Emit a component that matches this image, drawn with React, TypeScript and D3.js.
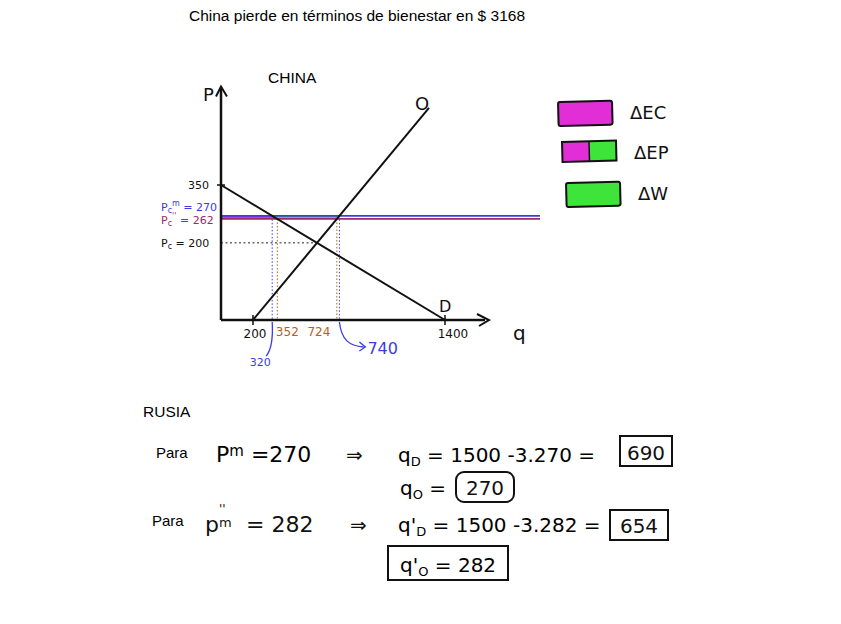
import React, { useRef, useEffect } from 'react';
import * as d3 from 'd3';

// Economic curves (China market)
const demandLine = [{ q: 0, p: 350 }, { q: 1400, p: 0 }];
const supplyLine = [{ q: 200, p: 0 }, { q: 1300, p: 550 }];
const equilibrium = { q: 600, p: 200 };
const priceTop = 270;    // Pc^m
const priceLow = 262;    // Pc''
const qDemandTop = 320;
const qDemandLow = 352;
const qSupplyLow = 724;
const qSupplyTop = 740;
const axisTicksX = [200, 1400];
const legendItems = ['ΔEC', 'ΔEP', 'ΔW'];

const MAGENTA = '#e22ed6';
const GREEN = '#3fe43a';
const BLUE = '#3b3be6';
const PURPLE = '#9a2a6c';
const BROWN = '#b2621f';
const HAND = "'DejaVu Sans', 'Noto Sans', sans-serif";
const PLAIN = "'Liberation Sans', Arial, sans-serif";

const App = () => {
  const svgRef = useRef<SVGSVGElement>(null);

  useEffect(() => {
    const svg = d3.select(svgRef.current);
    svg.selectAll('*').remove();

    const x = d3.scaleLinear().domain([0, 1400]).range([221, 445]);
    const y = d3.scaleLinear().domain([0, 350]).range([320, 185]);
    const line = d3.line<{ q: number; p: number }>().x(d => x(d.q)).y(d => y(d.p));

    // Titles
    svg.append('text').attr('x', 357).attr('y', 21).attr('text-anchor', 'middle')
      .style('font-family', PLAIN).style('font-size', '15.5px')
      .text('China pierde en términos de bienestar en $ 3168');
    svg.append('text').attr('x', 268).attr('y', 83)
      .style('font-family', PLAIN).style('font-size', '15.5px').text('CHINA');

    // Shaded areas
    svg.append('path')
      .attr('d', line([{ q: 0, p: priceTop }, { q: qDemandTop, p: priceTop }, { q: qDemandLow, p: priceLow }, { q: 0, p: priceLow }]) + 'Z')
      .attr('fill', MAGENTA);
    svg.append('path')
      .attr('d', line([{ q: qDemandTop, p: priceTop }, { q: qSupplyTop, p: priceTop }, { q: qSupplyLow, p: priceLow }, { q: qDemandLow, p: priceLow }]) + 'Z')
      .attr('fill', GREEN);

    // Dotted guide lines
    const guide = (q: number, p: number, color: string) =>
      svg.append('line').attr('x1', x(q)).attr('x2', x(q)).attr('y1', y(p)).attr('y2', y(0))
        .attr('stroke', color).attr('stroke-width', 1).attr('stroke-dasharray', '1.5,2');
    guide(qDemandTop, priceTop, BLUE);
    guide(qSupplyTop, priceTop, BLUE);
    guide(qDemandLow, priceLow, BROWN);
    guide(qSupplyLow, priceLow, BROWN);
    svg.append('line').attr('x1', x(0)).attr('x2', x(equilibrium.q))
      .attr('y1', y(equilibrium.p)).attr('y2', y(equilibrium.p))
      .attr('stroke', '#222').attr('stroke-width', 1).attr('stroke-dasharray', '2,2.5');

    // Price lines
    svg.append('line').attr('x1', x(0)).attr('x2', 540).attr('y1', y(priceTop)).attr('y2', y(priceTop))
      .attr('stroke', BLUE).attr('stroke-width', 1.8);
    svg.append('line').attr('x1', x(0)).attr('x2', 540).attr('y1', y(priceLow)).attr('y2', y(priceLow))
      .attr('stroke', PURPLE).attr('stroke-width', 1.8);

    // Axes
    const axisEndX = x(1650);
    const axisEndY = y(600);
    svg.append('line').attr('x1', x(0)).attr('x2', axisEndX).attr('y1', y(0)).attr('y2', y(0))
      .attr('stroke', '#111').attr('stroke-width', 2.5);
    svg.append('line').attr('x1', x(0)).attr('x2', x(0)).attr('y1', y(0)).attr('y2', axisEndY)
      .attr('stroke', '#111').attr('stroke-width', 2.5);
    svg.append('path').attr('d', `M${axisEndX - 8},${y(0) - 6}L${axisEndX + 4},${y(0)}L${axisEndX - 6},${y(0) + 6}`)
      .attr('fill', 'none').attr('stroke', '#111').attr('stroke-width', 2);
    svg.append('path').attr('d', `M${x(0) - 5},${axisEndY + 8}L${x(0)},${axisEndY - 2}L${x(0) + 6},${axisEndY + 8}`)
      .attr('fill', 'none').attr('stroke', '#111').attr('stroke-width', 2);
    axisTicksX.forEach(q => {
      svg.append('line').attr('x1', x(q)).attr('x2', x(q)).attr('y1', y(0) - 5).attr('y2', y(0) + 5)
        .attr('stroke', '#111').attr('stroke-width', 1.5);
    });
    svg.append('line').attr('x1', x(0) - 4).attr('x2', x(0) + 4).attr('y1', y(350)).attr('y2', y(350))
      .attr('stroke', '#111').attr('stroke-width', 1.5);

    // Demand & supply
    svg.append('path').attr('d', line(demandLine)).attr('stroke', '#111').attr('stroke-width', 2).attr('fill', 'none');
    svg.append('path').attr('d', line(supplyLine)).attr('stroke', '#111').attr('stroke-width', 2).attr('fill', 'none');

    const hand = (tx: number, ty: number, t: string, size: number, color = '#111', anchor = 'start') =>
      svg.append('text').attr('x', tx).attr('y', ty).attr('text-anchor', anchor)
        .style('font-family', HAND).style('font-size', `${size}px`).attr('fill', color).text(t);

    hand(x(0) - 18, axisEndY + 12, 'P', 18);
    hand(axisEndX + 28, y(0) + 20, 'q', 20);
    hand(x(supplyLine[1].q) - 14, y(supplyLine[1].p) + 2, 'O', 18);
    hand(x(1400) - 6, y(0) - 8, 'D', 16);

    // Y labels
    hand(x(0) - 12, y(350) + 4, '350', 11, '#111', 'end');
    const pLabel = (ty: number, sup: string, val: number, color: string) => {
      const t = svg.append('text').attr('x', 161).attr('y', ty)
        .style('font-family', HAND).style('font-size', '11px').attr('fill', color);
      t.append('tspan').text('P');
      t.append('tspan').attr('dy', 2).style('font-size', '8px').text('c');
      if (sup) t.append('tspan').attr('dy', -7).style('font-size', '8px').text(sup);
      t.append('tspan').attr('dy', sup ? 5 : -2).text(` = ${val}`);
    };
    pLabel(y(priceTop) - 5, 'm', priceTop, BLUE);
    pLabel(y(priceLow) + 5, "''", priceLow, PURPLE);
    pLabel(y(equilibrium.p) + 4, '', equilibrium.p, '#111');

    // X labels
    hand(x(200) + 2, y(0) + 18, '200', 12, '#111', 'middle');
    hand(x(1400) + 8, y(0) + 18, '1400', 12, '#111', 'middle');
    hand(x(qDemandLow) + 10, y(0) + 16, String(qDemandLow), 12, BROWN, 'middle');
    hand(x(qSupplyLow) - 18, y(0) + 16, String(qSupplyLow), 12, BROWN, 'middle');

    // Blue callouts
    svg.append('path')
      .attr('d', `M${x(qDemandTop)},${y(0) + 2}C${x(qDemandTop) + 1},${y(0) + 20} ${x(qDemandTop) - 1},${y(0) + 30} ${x(qDemandTop) - 6},${y(0) + 36}`)
      .attr('fill', 'none').attr('stroke', BLUE).attr('stroke-width', 1.3);
    hand(x(qDemandTop) - 12, y(0) + 46, String(qDemandTop), 11, BLUE, 'middle');
    svg.append('path')
      .attr('d', `M${x(qSupplyTop)},${y(0) + 2}C${x(qSupplyTop) + 2},${y(0) + 20} ${x(qSupplyTop) + 10},${y(0) + 26} ${x(qSupplyTop) + 24},${y(0) + 27}M${x(qSupplyTop) + 20},${y(0) + 22}L${x(qSupplyTop) + 26},${y(0) + 27}L${x(qSupplyTop) + 20},${y(0) + 31}`)
      .attr('fill', 'none').attr('stroke', BLUE).attr('stroke-width', 1.3);
    hand(x(qSupplyTop) + 28, y(0) + 34, String(qSupplyTop), 16, BLUE);

    // Legend
    const legendY = [102, 142, 183];
    legendItems.forEach((name, i) => {
      const g = svg.append('g').attr('transform', `translate(${558 + i * 4},${legendY[i]}) rotate(-1.5)`);
      if (name === 'ΔEP') {
        g.append('rect').attr('width', 27).attr('height', 20).attr('fill', MAGENTA);
        g.append('rect').attr('x', 27).attr('width', 27).attr('height', 20).attr('fill', GREEN);
        g.append('line').attr('x1', 27).attr('x2', 27).attr('y1', 0).attr('y2', 20).attr('stroke', '#111').attr('stroke-width', 1.5);
        g.append('rect').attr('width', 54).attr('height', 20).attr('fill', 'none').attr('stroke', '#111').attr('stroke-width', 2);
      } else {
        g.append('rect').attr('width', 54).attr('height', 24).attr('rx', 2)
          .attr('fill', name === 'ΔEC' ? MAGENTA : GREEN).attr('stroke', '#111').attr('stroke-width', 2);
      }
      hand(630 + i * 4, legendY[i] + 17, name, 18);
    });

    // RUSIA block
    svg.append('text').attr('x', 143).attr('y', 417).style('font-family', PLAIN).style('font-size', '15.5px').text('RUSIA');
    svg.append('text').attr('x', 156).attr('y', 458).style('font-family', PLAIN).style('font-size', '15px').text('Para');
    svg.append('text').attr('x', 152).attr('y', 526).style('font-family', PLAIN).style('font-size', '15px').text('Para');

    const eq1 = svg.append('text').attr('x', 216).attr('y', 462).style('font-family', HAND).style('font-size', '22px');
    eq1.append('tspan').text('P');
    eq1.append('tspan').attr('dy', -6).style('font-size', '15px').text('m');
    eq1.append('tspan').attr('dy', 6).text(' =270');
    hand(346, 462, '⇒', 20);
    const eq2 = svg.append('text').attr('x', 398).attr('y', 462).style('font-family', HAND).style('font-size', '20px');
    eq2.append('tspan').text('q');
    eq2.append('tspan').attr('dy', 4).style('font-size', '13px').text('D');
    eq2.append('tspan').attr('dy', -4).text(' = 1500 -3.270 =');
    svg.append('rect').attr('x', 620).attr('y', 436).attr('width', 52).attr('height', 30).attr('fill', 'none').attr('stroke', '#111').attr('stroke-width', 2);
    hand(646, 460, '690', 20, '#111', 'middle');

    const eq3 = svg.append('text').attr('x', 400).attr('y', 495).style('font-family', HAND).style('font-size', '20px');
    eq3.append('tspan').text('q');
    eq3.append('tspan').attr('dy', 4).style('font-size', '13px').text('O');
    eq3.append('tspan').attr('dy', -4).text(' =');
    svg.append('rect').attr('x', 456).attr('y', 472).attr('width', 58).attr('height', 30).attr('rx', 8).attr('fill', 'none').attr('stroke', '#111').attr('stroke-width', 2);
    hand(485, 495, '270', 20, '#111', 'middle');

    hand(205, 532, 'p', 22);
    hand(219, 513, "''", 12);
    hand(219, 527, 'm', 13);
    hand(246, 532, '= 282', 22);
    hand(350, 532, '⇒', 20);
    const eq5 = svg.append('text').attr('x', 398).attr('y', 532).style('font-family', HAND).style('font-size', '20px');
    eq5.append('tspan').text("q'");
    eq5.append('tspan').attr('dy', 4).style('font-size', '13px').text('D');
    eq5.append('tspan').attr('dy', -4).text(' = 1500 -3.282 =');
    svg.append('rect').attr('x', 610).attr('y', 510).attr('width', 58).attr('height', 30).attr('fill', 'none').attr('stroke', '#111').attr('stroke-width', 2);
    hand(639, 533, '654', 20, '#111', 'middle');

    svg.append('rect').attr('x', 388).attr('y', 546).attr('width', 120).attr('height', 34).attr('fill', 'none').attr('stroke', '#111').attr('stroke-width', 2);
    const eq6 = svg.append('text').attr('x', 400).attr('y', 572).style('font-family', HAND).style('font-size', '20px');
    eq6.append('tspan').text("q'");
    eq6.append('tspan').attr('dy', 4).style('font-size', '13px').text('O');
    eq6.append('tspan').attr('dy', -4).text(' = 282');
  }, []);

  return (
    <svg ref={svgRef} width={841} height={624}
      style={{ position: 'absolute', left: 0, top: 0, background: '#fff' }} />
  );
};

export default App;
